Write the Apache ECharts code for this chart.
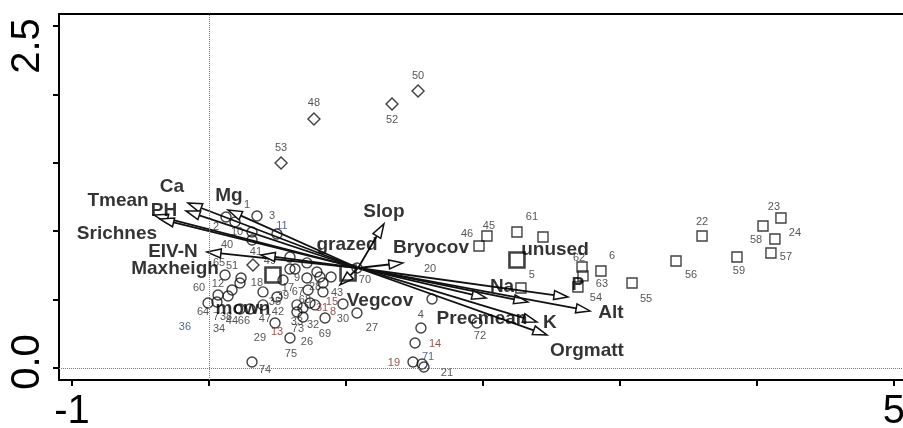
<!DOCTYPE html>
<html><head><meta charset="utf-8">
<script src="https://cdn.jsdelivr.net/npm/echarts@6/dist/echarts.min.js"></script>
<style>html,body{margin:0;padding:0;background:#fff}#c{width:903px;height:428px}</style>
</head><body><div id="c"></div>
<script>
// ---------------- data ----------------
// axis extent
const xRange = [-1.095, 5.066];
const yRange = [-0.088, 2.588];
const xTicks = [-1, 0, 1, 2, 3, 4, 5];
const xTickLabels = [-1, 5];
const yTicks = [0, 0.5, 1, 1.5, 2, 2.5];
const yTickLabels = [0, 2.5];

// site scores: [id, axis1, axis2]
const mownSites = [
  [1,0.190,1.067],[2,0.124,1.104],[3,0.350,1.111],[10,0.314,0.994],[40,0.314,0.936],
  [11,0.496,0.980],[49,0.591,0.811],[9,0.628,0.724],[17,0.540,0.643],[67,0.715,0.658],
  [28,0.723,0.570],[43,0.891,0.665],[65,0.117,0.680],[51,0.234,0.658],[12,0.226,0.621],
  [60,0.066,0.534],[18,0.394,0.556],[39,0.496,0.519],[64,-0.007,0.475],[7,0.058,0.482],
  [38,0.168,0.570],[44,0.226,0.431],[66,0.299,0.431],[47,0.394,0.461],[35,0.591,0.724],
  [42,0.642,0.461],[13,0.482,0.329],[33,0.642,0.409],[73,0.686,0.373],[32,0.847,0.365],
  [31,0.774,0.461],[15,0.737,0.475],[8,0.686,0.439],[68,0.832,0.556],[30,0.978,0.468],
  [27,1.080,0.402],[69,0.832,0.621],[26,0.715,0.768],[29,0.788,0.702],[75,0.591,0.219],
  [74,0.314,0.044],[70,1.080,0.731],[36,0.810,0.665],[34,0.139,0.526],[20,1.628,0.504],
  [4,1.547,0.292],[14,1.504,0.183],[19,1.489,0.044],[21,1.569,0.007],[71,1.555,0.029],
  [72,1.956,0.329]
];
const unusedSites = [
  [45,2.029,0.965],[46,1.971,0.892],[61,2.248,0.994],[25,2.438,0.958],[62,2.723,0.738],
  [63,2.730,0.673],[54,2.693,0.592],[6,2.861,0.709],[55,3.088,0.621],[5,2.277,0.585],
  [22,3.599,0.965],[56,3.409,0.782],[59,3.854,0.811],[58,4.044,1.038],[23,4.175,1.096],
  [24,4.131,0.943],[57,4.102,0.841]
];
const grazedSites = [
  [50,1.526,2.025],[52,1.336,1.930],[48,0.766,1.820],[53,0.526,1.499],[41,0.321,0.753]
];
// management centroids
const centroidNames = ['grazed', 'mown', 'unused'];
const centroidX = [1.015, 0.467, 2.248];
const centroidY = [0.694, 0.680, 0.789];

// environmental vectors (biplot arrows)
const arrowOrigin = [1.088, 0.731];
const envNames = ['Ca','PH','Tmean','Srichnes','Mg','EIV-N','Maxheigh','Slop','Bryocov','Vegcov','Precmean','Na','P','Alt','K','Orgmatt'];
const envX = [-0.153,-0.168,-0.401,-0.358,0.139,-0.015,0.380,1.277,1.416,0.956,2.022,2.328,2.620,2.781,2.394,2.467];
const envY = [1.206,1.148,1.118,1.089,1.155,0.848,0.826,1.053,0.768,0.607,0.512,0.482,0.519,0.417,0.336,0.241];
const envLabelX = [-0.270,-0.328,-0.664,-0.672,0.146,-0.263,-0.248,1.277,1.620,1.248,1.993,2.139,2.693,2.934,2.489,2.759];
const envLabelY = [1.323,1.148,1.221,0.980,1.257,0.848,0.724,1.140,0.877,0.490,0.358,0.592,0.607,0.402,0.329,0.124];

// ---------------- styling ----------------
const FONT = '"Liberation Sans", Arial, Helvetica, sans-serif';
const siteLabelOffset = {
  1:[12,-17],2:[-10,10],3:[15,0],10:[-15,0],40:[-25,5],11:[5,-8],49:[-20,4],9:[2,9],17:[5,8],
  67:[-9,14],28:[7,-3],43:[6,16],65:[-6,-12],51:[-9,-12],12:[-22,1],60:[-19,-7],18:[-6,-9],
  39:[6,-1],64:[-5,9],7:[-1,15],38:[-6,27],44:[-8,12],66:[-6,12],47:[2,14],35:[-15,33],
  42:[-19,7],13:[2,9],33:[0,10],73:[-5,12],32:[-12,7],31:[7,3],15:[22,-1],8:[30,4],68:[-18,8],
  30:[0,15],27:[15,15],69:[2,51],26:[0,79],29:[-57,66],75:[1,16],74:[13,8],70:[8,12],
  36:[-135,50],34:[-9,33],20:[-2,-30],4:[0,-13],14:[20,1],19:[-19,1],21:[23,6],71:[6,-7],72:[3,13],
  45:[2,-10],46:[-12,-12],61:[15,-15],62:[-3,-9],63:[19,8],54:[18,11],6:[11,-15],55:[14,16],
  5:[11,-13],22:[0,-14],56:[15,14],59:[2,14],58:[-7,14],23:[-7,-11],24:[20,-6],57:[15,4],
  50:[0,-15],52:[0,16],48:[0,-16],53:[0,-15],41:[3,-13]
};
const redLabels = [13,31,15,8,14,19];
const blueLabels = [11,36,71];
const centroidLabelOffset = [[-1,-28],[-30,34],[38,-10]];

function siteData(list) {
  return list.map(s => {
    const off = siteLabelOffset[s[0]];
    let color = '#2a2a2a';
    if (redLabels.includes(s[0])) color = '#7a2626';
    if (blueLabels.includes(s[0])) color = '#27407a';
    return {
      name: String(s[0]), value: [s[1], s[2]],
      label: off ? { show: true, offset: off, color } : { show: false }
    };
  });
}
const siteLabelStyle = { show: true, position: 'inside', formatter: '{b}', fontSize: 11, fontFamily: FONT,
  color: '#2a2a2a', textBorderWidth: 0, textShadowBlur: 0 };
const hollow = { color: 'rgba(0,0,0,0)', borderColor: '#111', borderWidth: 1.4 };
const boldLabel = { show: true, position: 'inside', formatter: '{b}', fontSize: 19, fontWeight: 'bold', fontFamily: FONT,
  color: '#000', textBorderWidth: 0, textShadowBlur: 0 };

function renderArrow(params, api) {
  const p0 = api.coord([api.value(0), api.value(1)]);
  const p1 = api.coord([api.value(2), api.value(3)]);
  const dx = p1[0] - p0[0], dy = p1[1] - p0[1];
  const L = Math.hypot(dx, dy), ux = dx / L, uy = dy / L;
  const hl = 14, hw = 4.5;
  const bx = p1[0] - ux * hl, by = p1[1] - uy * hl;
  return { type: 'group', children: [
    { type: 'line', shape: { x1: p0[0], y1: p0[1], x2: bx, y2: by }, style: { stroke: '#111', lineWidth: 1.8 } },
    { type: 'polygon', shape: { points: [[p1[0], p1[1]], [bx - uy * hw, by + ux * hw], [bx + uy * hw, by - ux * hw]] },
      style: { fill: '#fff', stroke: '#111', lineWidth: 1.5 } }
  ]};
}

const chart = echarts.init(document.getElementById('c'), null, { renderer: 'canvas' });
chart.setOption({
  animation: false,
  backgroundColor: '#fff',
  grid: { left: 59, right: 0, top: 14, bottom: 48, containLabel: false, outerBoundsMode: 'none' },
  xAxis: [{
    type: 'value', min: xRange[0], max: xRange[1], position: 'bottom',
    axisLine: { show: true, onZero: false, lineStyle: { color: '#000', width: 2 } },
    axisTick: { show: true, customValues: xTicks, length: 6, lineStyle: { color: '#000', width: 2 } },
    axisLabel: { show: true, customValues: xTickLabels, fontSize: 40, fontFamily: FONT, color: '#000', margin: 12 },
    splitLine: { show: false }
  }, {
    type: 'value', min: xRange[0], max: xRange[1], position: 'top',
    axisLine: { show: true, onZero: false, lineStyle: { color: '#000', width: 2 } },
    axisTick: { show: false }, axisLabel: { show: false }, splitLine: { show: false }
  }],
  yAxis: [{
    type: 'value', min: yRange[0], max: yRange[1],
    axisLine: { show: true, onZero: false, lineStyle: { color: '#000', width: 2 } },
    axisTick: { show: true, customValues: yTicks, length: 6, lineStyle: { color: '#000', width: 2 } },
    axisLabel: { show: true, customValues: yTickLabels, rotate: 90, fontSize: 40, fontFamily: FONT, color: '#000', margin: 11,
      formatter: v => (v > 1 ? '{hi|' : '{lo|') + Number(v).toFixed(1) + '}',
      rich: {
        hi: { fontSize: 40, fontFamily: FONT, color: '#000', padding: [0, 40, 0, 0] },
        lo: { fontSize: 40, fontFamily: FONT, color: '#000', padding: [0, 0, 0, 12] }
      } },
    splitLine: { show: false }
  }],
  series: [
    {
      type: 'scatter', name: 'mown', data: siteData(mownSites), symbol: 'circle', symbolSize: 10,
      itemStyle: hollow, label: siteLabelStyle, z: 2,
      markLine: { silent: true, symbol: 'none', label: { show: false },
        lineStyle: { type: 'dotted', color: '#7a7a7a', width: 1 }, data: [{ xAxis: 0 }, { yAxis: 0 }] }
    },
    { type: 'scatter', name: 'unused', data: siteData(unusedSites), symbol: 'rect', symbolSize: 10,
      itemStyle: hollow, label: siteLabelStyle, z: 2 },
    { type: 'scatter', name: 'grazed', data: siteData(grazedSites), symbol: 'diamond', symbolSize: 12,
      itemStyle: hollow, label: siteLabelStyle, z: 2 },
    {
      type: 'custom', name: 'env', renderItem: renderArrow, z: 3,
      encode: { x: [0, 2], y: [1, 3] },
      data: envNames.map((n, i) => [arrowOrigin[0], arrowOrigin[1], envX[i], envY[i]])
    },
    {
      type: 'scatter', name: 'centroids', symbol: 'rect', symbolSize: 15, z: 4,
      itemStyle: { color: 'rgba(0,0,0,0)', borderColor: '#111', borderWidth: 2.6 },
      data: centroidNames.map((n, i) => ({ name: n, value: [centroidX[i], centroidY[i]],
        label: { offset: centroidLabelOffset[i] } })),
      label: boldLabel
    },
    {
      type: 'scatter', name: 'envLabels', symbolSize: 0, z: 5, silent: true,
      data: envNames.map((n, i) => ({ name: n, value: [envLabelX[i], envLabelY[i]] })),
      label: boldLabel
    }
  ]
});
</script></body></html>
